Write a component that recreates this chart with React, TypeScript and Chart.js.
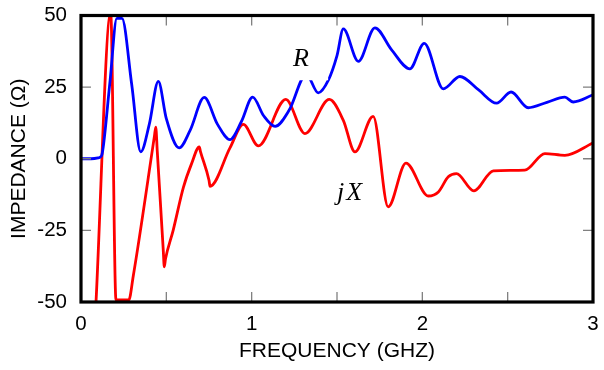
import React, { useEffect, useRef } from 'react';
import { Chart, registerables } from 'chart.js';

Chart.register(...registerables);

// Resistance R (blue), frequency in GHz -> ohms (values clamped to the plotted range, as in the source)
const freqR = [0, 0.06, 0.10, 0.12, 0.13, 0.17, 0.21, 0.24, 0.297, 0.35, 0.40, 0.453, 0.50, 0.575, 0.64, 0.722, 0.80, 0.873, 0.94, 1.006, 1.07, 1.137, 1.22, 1.32, 1.39, 1.45, 1.50, 1.537, 1.625, 1.722, 1.82, 1.927, 2.011, 2.123, 2.22, 2.33, 2.435, 2.52, 2.62, 2.73, 2.835, 2.884, 3.0];
const valuesR = [0, 0, 0.3, 1, 4, 27, 49, 49, 26, 2.4, 12, 27, 14, 3.8, 10, 21.4, 12, 6.7, 13, 21.5, 15, 11.3, 17, 29.5, 23, 27.5, 36, 45.3, 34, 45.7, 38, 31.4, 40.3, 24.4, 28.7, 24, 19.4, 23.3, 17.8, 19.7, 21.5, 19.8, 22.3];

// Reactance jX (red)
const freqX = [0.088, 0.174, 0.205, 0.28, 0.306, 0.43, 0.438, 0.447, 0.482, 0.488, 0.495, 0.54, 0.60, 0.648, 0.693, 0.70, 0.75, 0.756, 0.873, 0.951, 1.039, 1.20, 1.312, 1.455, 1.537, 1.605, 1.712, 1.80, 1.904, 2.035, 2.094, 2.152, 2.20, 2.302, 2.416, 2.60, 2.718, 2.835, 3.0];
const valuesX = [-50, 51, -49.3, -49.3, -41, 7.8, 11, 2.5, -31.9, -37.7, -35, -25, -10, -1.7, 4.1, 2.5, -7.5, -9.6, 3.8, 12, 4.5, 20.7, 8.8, 20.7, 13.4, 2.4, 14.8, -16.8, -1.5, -13, -11.6, -6.3, -5.2, -11.2, -4.2, -4.0, 1.8, 1.2, 5.5];

const xTickValues = [0, 0.5, 1, 1.5, 2, 2.5, 3];
const yTickValues = [-50, -25, 0, 25, 50];

// curve labels: text, frequency, value
const curveLabels = ['R', 'jX'];
const labelFreq = [1.289, 1.5];
const labelValue = [32.2, -14.5];
const labelAlign: CanvasTextAlign[] = ['center', 'left'];
const labelSpacing = ['0px', '2px'];

const framePlugin = {
  id: 'frame',
  afterDatasetsDraw(chart: any) {
    const { ctx, scales } = chart;
    const xs = scales.x, ys = scales.y;
    ctx.save();
    // white label box behind "R" (breaks the blue curve as in the original)
    const bx0 = xs.getPixelForValue(1.25), bx1 = xs.getPixelForValue(1.448);
    const by0 = ys.getPixelForValue(44), by1 = ys.getPixelForValue(27.4);
    ctx.fillStyle = '#ffffff';
    ctx.fillRect(bx0, by0, bx1 - bx0, by1 - by0);
    ctx.fillStyle = '#000000';
    ctx.textBaseline = 'alphabetic';
    curveLabels.forEach((t, i) => {
      ctx.font = 'italic 26px "Liberation Serif", "DejaVu Serif", serif';
      ctx.textAlign = labelAlign[i];
      try { (ctx as any).letterSpacing = labelSpacing[i]; } catch (e) { /* ignore */ }
      ctx.fillText(t, xs.getPixelForValue(labelFreq[i]), ys.getPixelForValue(labelValue[i]));
    });
    ctx.restore();
  },
  afterDraw(chart: any) {
    const { ctx, chartArea: a, scales } = chart;
    ctx.save();
    ctx.strokeStyle = '#808080';
    ctx.lineWidth = 1.3;
    const tl = 10;
    ctx.beginPath();
    scales.x.ticks.forEach((t: any) => {
      const px = scales.x.getPixelForValue(t.value);
      ctx.moveTo(px, a.bottom);
      ctx.lineTo(px, a.bottom - tl);
      ctx.moveTo(px, a.top);
      ctx.lineTo(px, a.top + tl);
    });
    scales.y.ticks.forEach((t: any) => {
      const py = scales.y.getPixelForValue(t.value);
      ctx.moveTo(a.left, py);
      ctx.lineTo(a.left + tl, py);
      ctx.moveTo(a.right, py);
      ctx.lineTo(a.right - tl, py);
    });
    ctx.stroke();
    ctx.strokeStyle = '#000000';
    ctx.lineWidth = 3.2;
    ctx.strokeRect(a.left, a.top, a.right - a.left, a.bottom - a.top);
    ctx.restore();
  },
};

const noPad = (s: any) => {
  s.paddingTop = 0;
  s.paddingBottom = 0;
  s.paddingLeft = 0;
  s.paddingRight = 0;
};

export default function App() {
  const ref = useRef<HTMLCanvasElement | null>(null);

  useEffect(() => {
    document.body.style.margin = '0';
    const canvas = ref.current;
    if (!canvas) return;
    const chart = new Chart(canvas, {
      type: 'line',
      data: {
        datasets: [
          {
            label: 'R',
            data: freqR.map((f, i) => ({ x: f, y: valuesR[i] })),
            borderColor: '#0000ff',
            borderWidth: 2.8,
            pointRadius: 0,
            cubicInterpolationMode: 'monotone',
            fill: false,
          },
          {
            label: 'jX',
            data: freqX.map((f, i) => ({ x: f, y: valuesX[i] })),
            borderColor: '#ff0000',
            borderWidth: 2.8,
            pointRadius: 0,
            cubicInterpolationMode: 'monotone',
            fill: false,
          },
        ],
      },
      options: {
        responsive: false,
        animation: false,
        events: [],
        layout: { padding: { left: 0, top: 15.5, right: 11, bottom: 0 } },
        plugins: { legend: { display: false }, tooltip: { enabled: false } },
        scales: {
          x: {
            type: 'linear',
            min: 0,
            max: 3,
            afterFit: (s: any) => { s.height = 68; noPad(s); },
            afterBuildTicks: (s: any) => { s.ticks = xTickValues.map((v) => ({ value: v })); },
            grid: { display: false, drawTicks: false },
            border: { display: false },
            ticks: {
              padding: 10,
              color: '#000',
              font: { family: '"Liberation Sans", Arial, sans-serif', size: 20.5 },
              maxRotation: 0,
              autoSkip: false,
              callback: (v: any) => (Number.isInteger(Number(v)) ? String(v) : ''),
            },
            title: {
              display: true,
              text: 'FREQUENCY (GHZ)',
              color: '#000',
              font: { family: '"Liberation Sans", Arial, sans-serif', size: 21 },
              padding: { top: 0, bottom: 6.4 },
            },
          },
          y: {
            type: 'linear',
            min: -50,
            max: 50,
            afterFit: (s: any) => { s.width = 81; noPad(s); },
            afterBuildTicks: (s: any) => { s.ticks = yTickValues.map((v) => ({ value: v })); },
            grid: { display: false, drawTicks: false },
            border: { display: false },
            ticks: {
              padding: 14,
              color: '#000',
              font: { family: '"Liberation Sans", Arial, sans-serif', size: 20.5 },
            },
            title: {
              display: true,
              text: 'IMPEDANCE (Ω)',
              color: '#000',
              font: { family: '"Liberation Sans", Arial, sans-serif', size: 21 },
              padding: { top: 6.4, bottom: 0 },
            },
          },
        },
      },
      plugins: [framePlugin],
    });
    return () => chart.destroy();
  }, []);

  return <canvas ref={ref} width={604} height={370} style={{ display: 'block' }} />;
}
